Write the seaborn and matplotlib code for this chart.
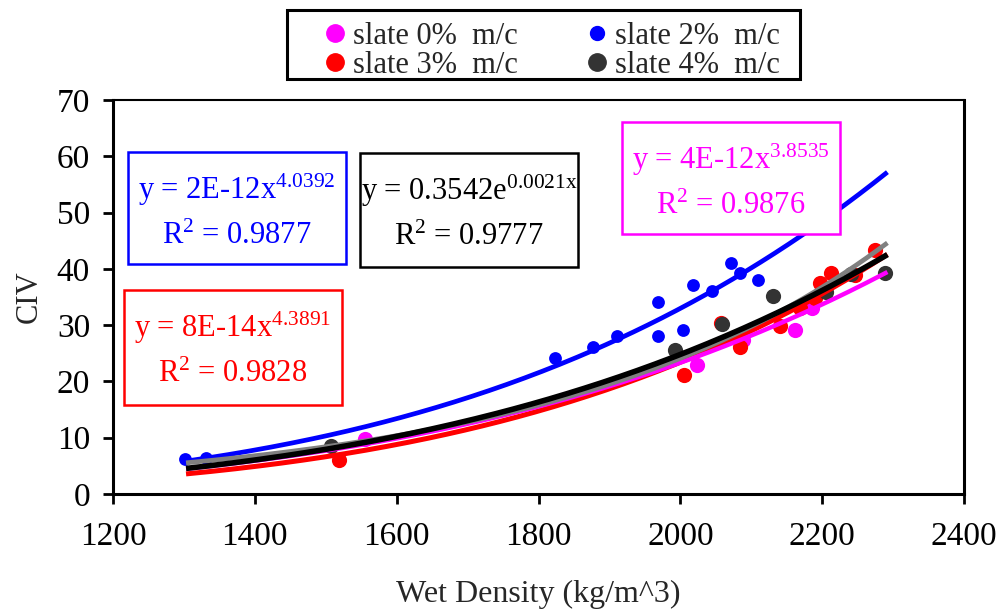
import numpy as np
import pandas as pd
import matplotlib
matplotlib.use("Agg")
import matplotlib.pyplot as plt
import seaborn as sns
from matplotlib.lines import Line2D
from matplotlib.patches import Rectangle

# ---- data ----
labels = ["slate 0%  m/c", "slate 2%  m/c", "slate 3%  m/c", "slate 4%  m/c"]
colors = ["#FF00FF", "#0000FF", "#FF0000", "#333333"]

dens_0 = [1556, 2024, 2089, 2161, 2185]
civ_0 = [9.8, 22.9, 27.4, 29.1, 33.0]

dens_2 = [1302, 1331, 1823, 1877, 1910, 1968, 1968, 2004, 2018, 2044, 2071, 2084, 2110]
civ_2 = [6.2, 6.4, 24.1, 26.2, 28.1, 34.2, 28.0, 29.1, 37.2, 36.1, 41.1, 39.2, 38.0]

dens_3 = [1519, 2005, 2057, 2084, 2141, 2169, 2190, 2197, 2213, 2246, 2274]
civ_3 = [6.0, 21.1, 30.3, 26.1, 29.8, 33.0, 34.8, 37.4, 39.2, 38.9, 43.3]

dens_4 = [1507, 1993, 2059, 2131, 2206, 2241, 2288]
civ_4 = [8.5, 25.5, 30.2, 35.2, 35.9, 39.0, 39.2]

# trendlines (y = a*x^b for power, y = a*e^(b*x) for exp)
trend_names = ["red", "magenta", "blue", "gray", "black"]
trend_kind = ["pow", "pow", "pow", "exp", "pow"]
trend_a = [7.6e-14, 4.44e-12, 1.53e-12, 0.3542, 2.1e-12]
trend_b = [4.3891, 3.8535, 4.0392, 0.00211, 3.96]
trend_col = ["#FF0000", "#FF00FF", "#0000FF", "#808080", "#000000"]
trend_lw = [3.6, 3.2, 3.4, 3.4, 4.0]
trend_range = [1303, 2292]

# equation boxes
eq_line1 = ["y = 2E-12x$^{4.0392}$", "y = 0.3542e$^{0.0021\\mathrm{x}}$",
            "y = 4E-12x$^{3.8535}$", "y = 8E-14x$^{4.3891}$"]
eq_line2 = ["R$^{2}$ = 0.9877", "R$^{2}$ = 0.9777", "R$^{2}$ = 0.9876", "R$^{2}$ = 0.9828"]
eq_col = ["#0000FF", "#000000", "#FF00FF", "#FF0000"]

sns.set_style("white")
plt.rcParams["font.family"] = ["Liberation Serif", "DejaVu Serif"]
plt.rcParams["mathtext.fontset"] = "custom"
plt.rcParams["mathtext.rm"] = "Liberation Serif"
plt.rcParams["mathtext.it"] = "Liberation Serif:italic"

W, H = 1001, 615
fig = plt.figure(figsize=(W / 100, H / 100), dpi=100)
ax = fig.add_axes([113 / W, 1 - 494 / H, (964 - 113) / W, (494 - 100) / H])

series = [(dens_0, civ_0, 0, 120), (dens_2, civ_2, 1, 85), (dens_3, civ_3, 2, 120), (dens_4, civ_4, 3, 120)]
for xs, ys, i, s in series:
    sns.scatterplot(x=xs, y=ys, color=colors[i], s=s, linewidth=0, ax=ax, zorder=3)

xx = np.linspace(trend_range[0], trend_range[1], 200)
for k in range(len(trend_names)):
    if trend_kind[k] == "pow":
        yy = trend_a[k] * xx ** trend_b[k]
    else:
        yy = trend_a[k] * np.exp(trend_b[k] * xx)
    ax.plot(xx, yy, color=trend_col[k], lw=trend_lw[k], zorder=4 + k, solid_capstyle="butt")

ax.set_xlim(1200, 2400)
ax.set_ylim(0, 70)
ax.set_xticks(range(1200, 2401, 200))
ax.set_yticks(range(0, 71, 10))
ax.tick_params(bottom=True, left=True, direction="out", length=7, width=2,
               labelsize=24, colors="black", pad=9.5)
ax.tick_params(axis="x", pad=13)
for side in ["left", "bottom", "right"]:
    ax.spines[side].set_linewidth(2.2)
    ax.spines[side].set_color("black")
ax.spines["top"].set_linewidth(1.5)
ax.spines["top"].set_color("black")
ax.set_xlabel("Wet Density (kg/m^3)", fontsize=23, labelpad=20)
ax.set_ylabel("CIV", fontsize=22, labelpad=9)

# equation boxes (pixel layout)
boxes = [(128, 152, 346, 264), (360, 153, 578, 267), (622, 122, 840, 234), (124, 290, 342, 405)]
for j, (x0, y0, x1, y1) in enumerate(boxes):
    fig.patches.append(Rectangle((x0 / W, 1 - y1 / H), (x1 - x0) / W, (y1 - y0) / H,
                                 transform=fig.transFigure, fill=True, fc="white",
                                 ec=eq_col[j], lw=1.8, zorder=10))
    cx = (x0 + x1) / 2 / W
    fig.text(cx, 1 - (y0 + 47) / H, eq_line1[j], color=eq_col[j], fontsize=22,
             ha="center", va="baseline", zorder=11)
    fig.text(cx, 1 - (y0 + 92) / H, eq_line2[j], color=eq_col[j], fontsize=22,
             ha="center", va="baseline", zorder=11)

# legend frame drawn separately, legend itself unframed
fig.patches.append(Rectangle((287 / W, 1 - 79 / H), (800 - 287) / W, 69 / H,
                             transform=fig.transFigure, fill=True, fc="white",
                             ec="black", lw=2.2, zorder=1))
order = [0, 2, 1, 3]  # column-major fill
handles = [Line2D([], [], ls="", marker="o", color=colors[i],
                  markersize=10 if i == 1 else 12.5) for i in order]
leg = fig.legend(handles, [labels[i] for i in order], ncol=2, fontsize=22,
                 loc="upper left", bbox_to_anchor=(291.5 / W, 1 - 22 / H),
                 frameon=False, handletextpad=-0.83, handlelength=2.84, borderpad=0,
                 labelspacing=0.0, columnspacing=1.16, borderaxespad=0)

fig.savefig("out.png", dpi=100)
